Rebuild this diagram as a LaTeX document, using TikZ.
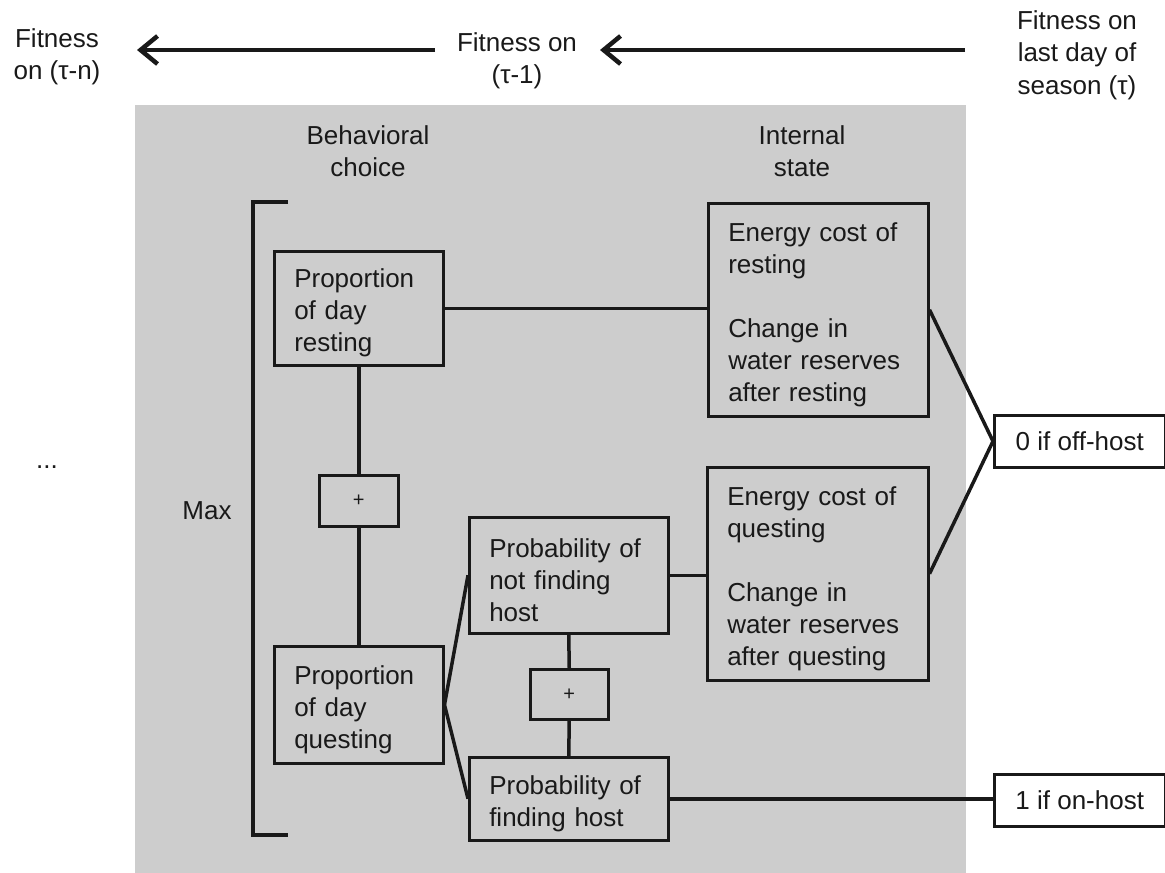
\documentclass[tikz,border=0pt]{standalone}
\usepackage{fontspec}
\setmainfont{Liberation Sans}
\usetikzlibrary{arrows.meta}
\definecolor{panelgray}{RGB}{205,205,205}
\definecolor{inkc}{RGB}{25,25,25}
\newcommand{\topstrut}{\leavevmode\vrule width 0pt height 28pt depth 0pt\ignorespaces}
\begin{document}
\begin{tikzpicture}[x=1pt,y=-1pt,
  txt/.style={font=\fontsize{26}{32.5}\selectfont, text=inkc, inner sep=0pt},
  gbox/.style={draw=inkc, line width=2.5pt, fill=panelgray, anchor=north west, inner xsep=20pt, inner ysep=0pt,
    align=left, font=\fontsize{26}{32}\selectfont, text=inkc, execute at begin node={\topstrut}},
  wbox/.style={draw=inkc, line width=2.5pt, fill=white, anchor=north west, inner sep=0pt,
    align=center, font=\fontsize{26}{32}\selectfont, text=inkc, minimum width=171pt, minimum height=52pt},
  pbox/.style={draw=inkc, line width=2.5pt, fill=panelgray, anchor=north west, inner sep=0pt,
    font=\fontsize{20}{20}\selectfont, text=inkc},
  conn/.style={draw=inkc, line width=3.5pt},
  arr/.style={draw=inkc, line width=4.5pt, -{Straight Barb[length=17pt,width=28pt,line width=4.5pt]}},
  brk/.style={draw=inkc, line width=4.5pt}]
\useasboundingbox (0,0) rectangle (1165,873);
\fill[panelgray] (135,105) rectangle (966,873);

% top labels
\node[txt, align=center] (tn) at (57,57) {Fitness\\on (τ-n)};
\node[txt, align=center] (t1) at (517,61) {Fitness on\\(τ-1)};
\node[txt, align=center] (tt) at (1077,55) {Fitness on\\last day of\\season (τ)};
\coordinate (a1s) at (965,50);
\coordinate (a1e) at (600,50);
\coordinate (a2s) at (435,50);
\coordinate (a2e) at (137,50);
\draw[arr] (a1s) -- (a1e);
\draw[arr] (a2s) -- (a2e);

% column headers
\node[txt, align=center] (bc) at (368,151) {Behavioral\\choice};
\node[txt, align=center] (is) at (802,151) {Internal\\state};
\node[txt] (dots) at (47,467) {...};
\node[txt] (max) at (207,511) {Max};

% bracket
\coordinate (bt) at (288,202);
\coordinate (bb) at (288,835);
\draw[brk] (bt) -- (253,202) -- (253,835) -- (bb);

% boxes
\node[gbox, minimum width=169pt, minimum height=114pt, text width=129pt] (PR) at (273,250) {Proportion\\of day\\resting};
\node[pbox, minimum width=79pt, minimum height=51pt] (P1) at (318,474) {+};
\node[gbox, minimum width=169pt, minimum height=117pt, text width=129pt] (PQ) at (273,645) {Proportion\\of day\\questing};
\node[gbox, minimum width=199pt, minimum height=116pt, text width=159pt] (PNF) at (468,516) {Probability of\\not finding\\host};
\node[pbox, minimum width=78pt, minimum height=50pt] (P2) at (529,668) {+};
\node[gbox, minimum width=199pt, minimum height=83pt, text width=159pt] (PF) at (468,756) {Probability of\\finding host};
\node[gbox, minimum width=220pt, minimum height=213pt, text width=180pt] (ER) at (707,202) {Energy cost of\\resting\\[32pt]Change in\\water reserves\\after resting};
\node[gbox, minimum width=221pt, minimum height=213pt, text width=181pt] (EQ) at (706,466) {Energy cost of\\questing\\[32pt]Change in\\water reserves\\after questing};
\node[wbox] (OFF) at (993,414) {0 if off-host};
\node[wbox] (ON) at (993,773) {1 if on-host};

% connectors
\draw[conn] (PR.east) -- (PR.east -| ER.west);
\draw[conn] (PR.south) -- (P1.north);
\draw[conn] (P1.south) -- (PQ.north);
\draw[conn] (PQ.east) -- (PNF.west);
\draw[conn] (PQ.east) -- (PF.west);
\draw[conn] (PNF.south) -- (P2.north);
\draw[conn] (P2.south) -- (PF.north);
\draw[conn] (PNF.east) -- (PNF.east -| EQ.west);
\draw[conn] (ER.east) -- (OFF.west);
\draw[conn] (EQ.east) -- (OFF.west);
\draw[conn] (PF.east) -- (PF.east -| ON.west);
\end{tikzpicture}
\end{document}
